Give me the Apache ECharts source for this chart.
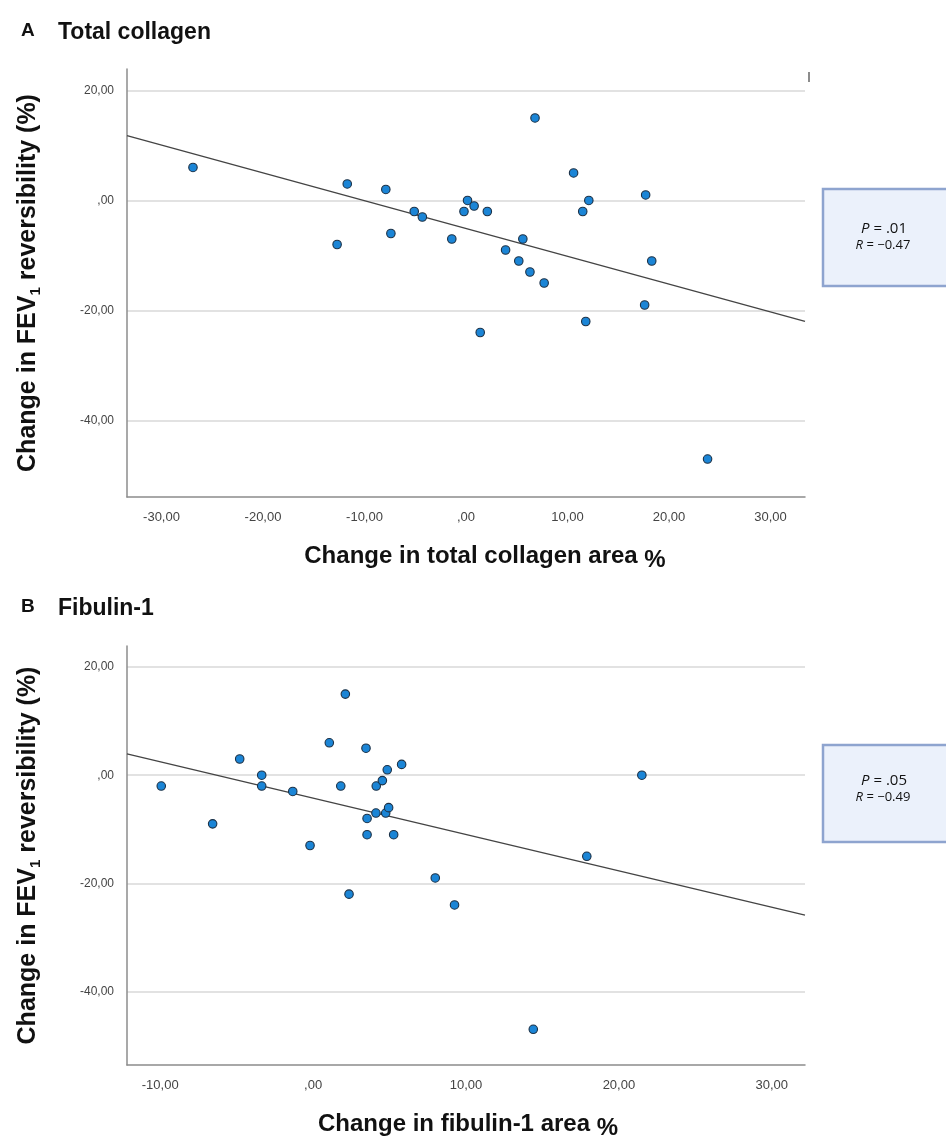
<!DOCTYPE html>
<html><head><meta charset="utf-8">
<script src="https://cdn.jsdelivr.net/npm/echarts@6/dist/echarts.min.js"></script>
<style>html,body{margin:0;padding:0;background:#fff}#c{width:946px;height:1141px}</style>
</head><body><div id="c"></div>
<script>
// ---- data ----
const collagenX = [-26.9,-11.7,-12.7,-7.9,-7.4,-5.1,-4.3,-1.4,-0.2,0.15,0.8,2.1,1.4,3.9,5.2,5.6,6.3,6.8,7.7,10.6,11.5,11.8,12.1,17.7,17.6,18.3,23.8];
const collagenY = [6,3,-8,2,-6,-2,-3,-7,-2,0,-1,-2,-24,-9,-11,-7,-13,15,-15,5,-2,-22,0,1,-19,-11,-47];
const fibulinX = [-9.93,-6.57,-4.8,-3.36,-3.36,-1.33,-0.2,1.06,1.81,2.11,2.35,3.46,3.53,3.53,4.11,4.13,4.53,4.75,4.85,4.94,5.27,5.79,7.99,9.25,14.4,17.9,21.5];
const fibulinY = [-2,-9,3,0,-2,-3,-13,6,-2,15,-22,5,-8,-11,-7,-2,-1,-7,1,-6,-11,2,-19,-24,-47,-15,0];
const fitA = [-5.1, -0.505];   // intercept, slope
const fitB = [-4.24, -0.673];
const xTicksA = [-30,-20,-10,0,10,20,30];
const xTicksB = [-10,0,10,20,30];
const yTicks = [-40,-20,0,20];
const xRangeA = [-33.4, 33.4];
const xRangeB = [-12.17, 32.17];
const yRangeA = [-53.9, 23.9];
const yRangeB = [-53.6, 23.9];
const statsA = ['.01', '\u22120.47'];
const statsB = ['.05', '\u22120.49'];
const panelTitles = [['A','Total collagen'],['B','Fibulin-1']];
const xTitles = ['Change in total collagen area', 'Change in fibulin-1 area'];
const yTitle = ['Change in FEV', '1', ' reversibility (%)'];

// ---- helpers ----
const sans = '"Liberation Sans",Arial,Helvetica,sans-serif';
function fmt(v){
  let s = Math.abs(v).toFixed(2).replace('.', ',');
  if (s.indexOf('0,') === 0) s = s.slice(1);
  return (v < 0 ? '-' : '') + s;
}
function pairs(xs, ys){ return xs.map((x,i)=>[x, ys[i]]); }
function fitLine(fit, range){ return range.map(x => [x, fit[0] + fit[1]*x]); }

function xAxis(idx, range, ticks, title, gap, shift){
  return {
    gridIndex: idx, type: 'value', min: range[0], max: range[1],
    axisLine: {show: true, onZero: false, lineStyle: {color: '#8c8c8c', width: 1.5}},
    axisTick: {show: false, customValues: ticks},
    axisLabel: {customValues: ticks, formatter: fmt, margin: 14, color: '#444', fontSize: 13, fontFamily: sans},
    splitLine: {show: false},
    name: '{t|' + title + '}  {p|%}', nameLocation: 'middle', nameGap: gap,
    nameTextStyle: {padding: [0,0,0,shift],
      rich: {t: {fontSize: 24, fontWeight: 'bold', color: '#111', fontFamily: sans, lineHeight: 28},
             p: {fontSize: 24, fontWeight: 'bold', color: '#111', fontFamily: sans, lineHeight: 28, padding: [8,0,0,0]}}}
  };
}
function yAxis(idx, range){
  return {
    gridIndex: idx, type: 'value', min: range[0], max: range[1],
    axisLine: {show: true, onZero: false, lineStyle: {color: '#8c8c8c', width: 1.5}},
    axisTick: {show: false, customValues: yTicks},
    axisLabel: {customValues: yTicks, formatter: fmt, margin: 13, color: '#444', fontSize: 12, fontFamily: sans},
    splitLine: {show: true, lineStyle: {color: '#d8d8d8', width: 1.5}},
    name: '{b|' + yTitle[0] + '}{s|' + yTitle[1] + '}{b|' + yTitle[2] + '}',
    nameLocation: 'middle', nameRotate: 90, nameGap: 84,
    nameTextStyle: {rich: {
      b: {fontSize: 25, fontWeight: 'bold', color: '#111', fontFamily: sans, lineHeight: 30},
      s: {fontSize: 15, fontWeight: 'bold', color: '#111', fontFamily: sans, lineHeight: 14, verticalAlign: 'bottom'}
    }}
  };
}
function scatter(idx, data){
  return {type: 'scatter', xAxisIndex: idx, yAxisIndex: idx, data: data, symbolSize: 8.5,
    itemStyle: {color: '#1b85d6', opacity: 1, borderColor: '#1b3147', borderWidth: 1.1}, z: 3};
}
function line(idx, data){
  return {type: 'line', xAxisIndex: idx, yAxisIndex: idx, data: data, symbol: 'none',
    lineStyle: {color: '#444', width: 1.3}, z: 2, silent: true};
}
function statBox(top, stats, dp, dr){
  const f = '"Open Sans",sans-serif';
  return [
    {type: 'rect', shape: {x: 823, y: top, width: 130, height: 97},
     style: {fill: '#ebf1fb', stroke: '#8ea4cf', lineWidth: 2.5}},
    {type: 'text', x: 884, y: top + dp, style: {
      text: '{i|P} = ' + stats[0], align: 'center', verticalAlign: 'middle',
      fontSize: 15, fontFamily: f, fill: '#111',
      rich: {i: {fontStyle: 'italic', fontSize: 15, fontFamily: f, fill: '#111'}}}},
    {type: 'text', x: 883, y: top + dr, style: {
      text: '{i|R} = ' + stats[1], align: 'center', verticalAlign: 'middle',
      fontSize: 13, fontFamily: f, fill: '#111',
      rich: {i: {fontStyle: 'italic', fontSize: 13, fontFamily: f, fill: '#111'}}}}
  ];
}
function panelTitle(y, t){
  return [
    {type: 'text', x: 21, y: y, style: {text: t[0], fontSize: 19, fontWeight: 'bold', fontFamily: sans, fill: '#111', verticalAlign: 'middle'}},
    {type: 'text', x: 58, y: y + 2, style: {text: t[1], fontSize: 23, fontWeight: 'bold', fontFamily: sans, fill: '#111', verticalAlign: 'middle'}}
  ];
}

const chart = echarts.init(document.getElementById('c'), null, {renderer: 'canvas'});
chart.setOption({
  backgroundColor: '#fff',
  animation: false,
  grid: [
    {left: 127, top: 69, width: 678, height: 428},
    {left: 127, top: 646, width: 678, height: 427}
  ],
  xAxis: [xAxis(0, xRangeA, xTicksA, xTitles[0], 45, 38), xAxis(1, xRangeB, xTicksB, xTitles[1], 45, 4)],
  yAxis: [yAxis(0, yRangeA), yAxis(1, yRangeB)],
  series: [
    line(0, fitLine(fitA, xRangeA)), scatter(0, pairs(collagenX, collagenY)),
    line(1, fitLine(fitB, xRangeB)), scatter(1, pairs(fibulinX, fibulinY))
  ],
  graphic: [].concat(
    panelTitle(31, panelTitles[0]), panelTitle(607, panelTitles[1]),
    statBox(189, statsA, 40, 56), statBox(745, statsB, 36, 52),
    [{type: 'line', shape: {x1: 809, y1: 72, x2: 809, y2: 82}, style: {stroke: '#666', lineWidth: 1.5}}]
  )
});
</script></body></html>
